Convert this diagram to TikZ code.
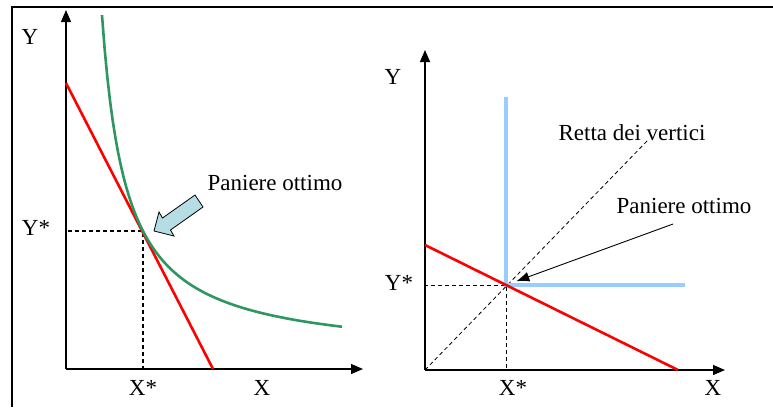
\documentclass[tikz,border=0pt]{standalone}
\usepackage{fontspec}
\setmainfont{Liberation Serif}
\usetikzlibrary{arrows.meta,positioning,calc}

\definecolor{budgetred}{RGB}{255,0,0}
\definecolor{indiffgreen}{RGB}{46,150,96}
\definecolor{leontief}{RGB}{153,204,255}
\definecolor{callout}{RGB}{183,221,228}

\tikzset{
  axis/.style={line width=1.3pt, -{Triangle[length=12pt,width=10pt]}},
  budget/.style={budgetred, line width=2.6pt},
  indiff/.style={indiffgreen, line width=2.6pt},
  guide/.style={line width=1.2pt, dash pattern=on 4pt off 3pt},
  thinguide/.style={line width=0.8pt, dash pattern=on 4pt off 3pt},
  lbl/.style={font=\fontsize{23}{27}\selectfont, inner sep=0pt}
}

\begin{document}
\begin{tikzpicture}[x=1pt, y=-1pt]
    \useasboundingbox (0,0) rectangle (773,407);
    % frame
    \draw[line width=2pt] (12,407) -- (12,7) -- (773,7);

    % left panel: smooth indifference curve
    \coordinate (oL) at (66,369);
    \coordinate (optL) at (143,231);
    \draw[guide] (oL) rectangle (optL);
    \draw[axis] (oL) -- (66,10);
    \draw[axis] (oL) -- (363,369);
    \draw[budget] (66,83) -- (213,369);
    \draw[indiff] plot[domain=36:276, samples=90] ({66+\x}, {358-8264/(\x-11.9)});
    \filldraw[fill=callout, line width=0.8pt]
      (154,231) -- (174,236) -- (170.5,230) -- (203,207) -- (195,195) -- (162.5,218) -- (159,212) -- cycle;
    \node[lbl] (ylabL) at (30,37) {Y};
    \node[lbl] (ystarL) at (36,228) {Y*};
    \node[lbl] (xstarL) at (143,388) {X*};
    \node[lbl] (xlabL) at (262,388) {X};
    \node[lbl] (panL) at (275,183) {Paniere ottimo};

    % right panel: perfect complements
    \coordinate (oR) at (425,370);
    \coordinate (optR) at (506,285);
    \draw[thinguide] (oR) rectangle (optR);
    \draw[thinguide] (oR) -- (648,140);
    \draw[axis] (oR) -- (425,50);
    \draw[axis] (oR) -- (725,370);
    \draw[leontief, line width=3.2pt] (506,97) -- (optR) -- (685,285);
    \draw[budget] (425,245) -- (678,370);
    \node[lbl] (ylabR) at (393,77) {Y};
    \node[lbl] (ystarR) at (399,283) {Y*};
    \node[lbl] (xstarR) at (513,388) {X*};
    \node[lbl] (xlabR) at (713,388) {X};
    \node[lbl] (vertici) at (632,133) {Retta dei vertici};
    \node[lbl] (panR) at (684,206) {Paniere ottimo};
    \coordinate (panRtail) at (673,224);
    \draw[line width=0.9pt, -{Latex[length=13pt,width=10pt]}, shorten >=11pt] (panRtail) -- (optR);
\end{tikzpicture}
\end{document}
